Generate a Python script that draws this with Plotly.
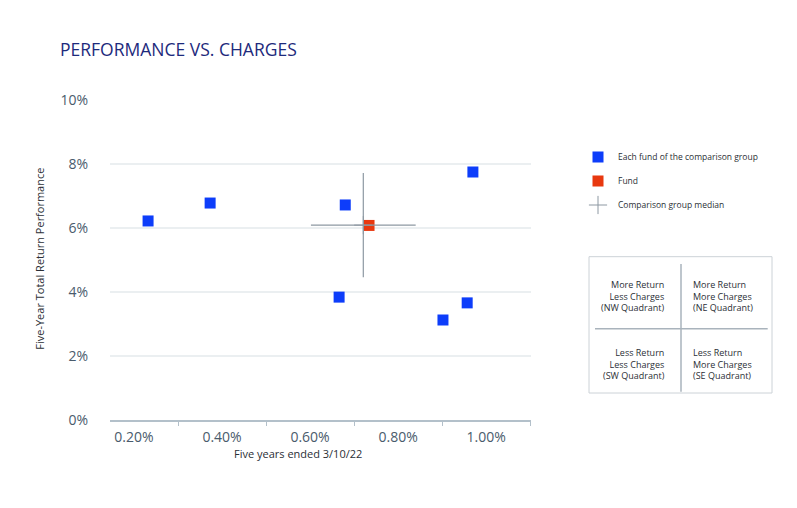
import plotly.graph_objects as go

# ---- data ----
x_tick_values = [0.2, 0.4, 0.6, 0.8, 1.0]
x_tick_labels = ["0.20%", "0.40%", "0.60%", "0.80%", "1.00%"]
x_boundaries = [0.3, 0.5, 0.7, 0.9, 1.1]
y_tick_values = [0, 2, 4, 6, 8, 10]
y_tick_labels = ["0%", "2%", "4%", "6%", "8%", "10%"]

group_charges = [0.232, 0.373, 0.680, 0.666, 0.902, 0.957, 0.970]
group_returns = [6.22, 6.78, 6.72, 3.84, 3.125, 3.66, 7.75]

fund_charge = [0.734]
fund_return = [6.08]

median_charge = [0.721]
median_return = [6.09]
median_charge_spread = [0.119]
median_return_spread = [1.63]

BLUE = "#0d3dfa"
RED = "#e8380f"
GRAY = "#8d98a2"
FONT = "Open Sans"

# page body has an 8px default margin
OFF = 8
W, H = 797 - OFF, 508 - OFF

fig = go.Figure()

fig.add_trace(go.Scatter(
    x=group_charges, y=group_returns, mode="markers",
    name="Each fund of the comparison group", legendgroup="a", legendrank=1,
    marker=dict(symbol="square", size=11, color=BLUE, line=dict(width=0)),
))
fig.add_trace(go.Scatter(
    x=fund_charge, y=fund_return, mode="markers",
    name="Fund", legendgroup="b", legendrank=2,
    marker=dict(symbol="square", size=11, color=RED, line=dict(width=0)),
))
fig.add_trace(go.Scatter(
    x=median_charge, y=median_return, mode="markers",
    name="Comparison group median", legendgroup="c", legendrank=3,
    marker=dict(symbol="cross-thin", size=13, color=GRAY,
                line=dict(width=1, color=GRAY)),
    error_x=dict(type="data", array=median_charge_spread, color=GRAY,
                 thickness=1.2, width=0),
    error_y=dict(type="data", array=median_return_spread, color=GRAY,
                 thickness=1.2, width=0),
))

def px_x(px):
    return (px - 110) / 421.0

def px_y(py):
    return (420 - py) / 320.0

shapes = [
    dict(type="rect", xref="paper", yref="paper",
         x0=px_x(589), x1=px_x(772), y0=px_y(393), y1=px_y(256.7),
         line=dict(color="#ccd2d7", width=1)),
    dict(type="line", xref="paper", yref="paper",
         x0=px_x(681), x1=px_x(681), y0=px_y(391.7), y1=px_y(264),
         line=dict(color="#a9b3bc", width=1.5)),
    dict(type="line", xref="paper", yref="paper",
         x0=px_x(595), x1=px_x(767.7), y0=px_y(328.7), y1=px_y(328.7),
         line=dict(color="#a9b3bc", width=1.5)),
]

qfont = dict(family=FONT, size=9, color="#2b2f36")
annotations = [
    dict(text="More Return<br>Less Charges<br>(NW Quadrant)", xref="paper", yref="paper",
         x=px_x(667), y=px_y(295.7), xanchor="right", yanchor="middle", align="right",
         showarrow=False, font=qfont),
    dict(text="More Return<br>More Charges<br>(NE Quadrant)", xref="paper", yref="paper",
         x=px_x(691), y=px_y(295.7), xanchor="left", yanchor="middle", align="left",
         showarrow=False, font=qfont),
    dict(text="Less Return<br>Less Charges<br>(SW Quadrant)", xref="paper", yref="paper",
         x=px_x(667), y=px_y(363.7), xanchor="right", yanchor="middle", align="right",
         showarrow=False, font=qfont),
    dict(text="Less Return<br>More Charges<br>(SE Quadrant)", xref="paper", yref="paper",
         x=px_x(691), y=px_y(363.7), xanchor="left", yanchor="middle", align="left",
         showarrow=False, font=qfont),
    dict(text="Five-Year Total Return Performance", xref="paper", yref="paper",
         x=px_x(40), y=px_y(258.7), xanchor="center", yanchor="middle", textangle=-90,
         showarrow=False, font=dict(family=FONT, size=11, color="#2b2f36")),
    dict(text="Five years ended 3/10/22", xref="paper", yref="paper",
         x=px_x(297.5), y=px_y(453.5), xanchor="center", yanchor="middle",
         showarrow=False, font=dict(family=FONT, size=11, color="#2b2f36")),
]

fig.update_layout(
    width=W, height=H,
    margin=dict(l=110 - OFF, r=W - (531 - OFF), t=100 - OFF, b=H - (420 - OFF),
                autoexpand=False),
    paper_bgcolor="white", plot_bgcolor="white",
    title=dict(text="PERFORMANCE VS. CHARGES", xref="container", yref="container",
               x=(60 - OFF) / W, y=1 - (50 - OFF) / H, xanchor="left", yanchor="middle",
               font=dict(family=FONT, size=17.5, color="#1d2a7c")),
    showlegend=True,
    legend=dict(x=px_x(578), y=px_y(142.5), xanchor="left", yanchor="top",
                traceorder="grouped", tracegroupgap=5,
                font=dict(family=FONT, size=8.5, color="#2b2f36"),
                bgcolor="rgba(0,0,0,0)"),
    shapes=shapes,
    annotations=annotations,
    xaxis=dict(range=[0.1455, 1.102], tickmode="array", tickvals=x_tick_values,
               ticktext=x_tick_labels, showgrid=False, zeroline=False,
               showline=True, linecolor="#b3c0ca", linewidth=1.5,
               ticks="outside", ticklen=3, tickcolor="rgba(0,0,0,0)",
               tickfont=dict(family=FONT, size=14, color="#4a5b6c"),
               minor=dict(tickmode="array", tickvals=x_boundaries, ticks="outside",
                          ticklen=4, tickcolor="#b3c0ca", tickwidth=1, showgrid=False)),
    yaxis=dict(range=[0, 10], tickmode="array", tickvals=y_tick_values,
               ticktext=y_tick_labels, showgrid=True, gridcolor="#ebeff1",
               gridwidth=1.5, zeroline=False, showline=False,
               ticks="outside", ticklen=18, tickcolor="rgba(0,0,0,0)",
               tickfont=dict(family=FONT, size=14, color="#4a5b6c")),
)

fig.write_html("out.html")
